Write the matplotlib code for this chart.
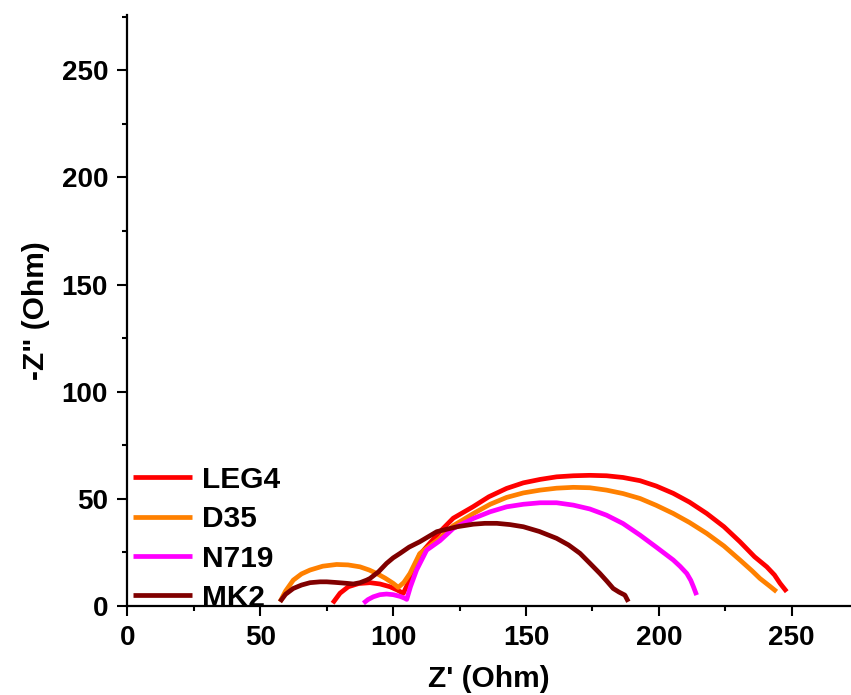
import numpy as np
import matplotlib
matplotlib.use('Agg')
import matplotlib.pyplot as plt
from matplotlib.ticker import MultipleLocator

plt.rcParams['font.family'] = ['Liberation Sans', 'DejaVu Sans']
plt.rcParams['font.weight'] = 'bold'

# Nyquist data: Z' (Ohm) and -Z'' (Ohm)
leg4_x = [77.2, 80.0, 83.1, 87.0, 91.3, 95.0, 98.8, 101.5, 103.8, 106.3, 110.0, 117.6, 122.6,
          130.0, 136.0, 142.7, 149.0, 155.3, 161.5, 167.8, 174.0, 180.3, 186.5, 192.9, 199.0,
          205.4, 211.5, 218.0, 224.5, 230.5, 236.0, 240.6, 243.5, 245.6, 248.1]
leg4_y = [1.3, 6.0, 9.0, 10.5, 10.9, 10.3, 9.0, 7.5, 5.9, 12.5, 24.0, 34.7, 41.0,
          46.3, 51.0, 54.9, 57.5, 59.1, 60.3, 60.8, 61.0, 60.8, 60.0, 58.5, 56.0,
          52.6, 48.5, 43.2, 37.0, 30.0, 23.0, 18.3, 14.5, 10.6, 6.7]

d35_x = [57.4, 59.5, 62.4, 65.5, 68.7, 73.5, 78.7, 83.0, 87.5, 91.0, 93.8, 97.0, 100.0, 101.9,
         104.0, 106.3, 110.0, 117.6, 122.6, 130.2, 136.5, 142.7, 149.0, 155.3, 161.5, 167.8,
         174.0, 180.3, 186.5, 192.9, 199.0, 205.4, 211.5, 218.0, 224.5, 230.5, 235.0, 238.0,
         241.5, 244.3]
d35_y = [2.0, 7.0, 12.1, 15.0, 16.8, 18.6, 19.4, 19.2, 18.3, 16.8, 15.2, 13.0, 10.6, 8.7,
         11.0, 15.2, 24.5, 31.6, 37.5, 43.2, 47.5, 50.7, 52.8, 54.1, 55.0, 55.4,
         55.2, 54.1, 52.5, 50.2, 47.0, 43.2, 39.0, 33.9, 28.0, 21.5, 16.5, 12.9,
         9.5, 6.7]

n719_x = [88.8, 90.5, 92.5, 95.0, 97.5, 100.0, 102.6, 104.4, 105.1, 106.5, 108.8, 112.6,
          117.6, 122.6, 130.2, 136.5, 142.7, 149.0, 155.3, 161.5, 167.8, 174.0, 180.3, 186.5,
          192.9, 199.0, 205.4, 208.0, 210.5, 212.0, 213.0, 214.2]
n719_y = [1.3, 3.0, 4.3, 5.3, 5.6, 5.3, 4.5, 3.6, 3.1, 9.0, 16.8, 26.1,
          30.5, 36.2, 40.9, 44.0, 46.3, 47.5, 48.2, 48.2, 47.1, 45.3, 42.4, 38.5,
          33.1, 27.5, 21.5, 18.5, 15.2, 12.0, 9.0, 5.1]

mk2_x = [57.4, 59.5, 62.4, 65.5, 68.7, 72.5, 75.0, 78.5, 82.5, 85.0, 87.5, 90.0, 91.3, 94.5,
         97.5, 100.0, 102.6, 106.0, 110.0, 116.4, 124.0, 130.2, 134.5, 139.0, 144.0, 149.0,
         155.0, 161.5, 166.0, 170.3, 174.0, 177.8, 180.5, 182.8, 185.0, 187.2, 188.5]
mk2_y = [2.0, 5.5, 8.2, 9.8, 10.9, 11.3, 11.3, 11.0, 10.6, 10.3, 10.9, 12.1, 12.9, 16.0,
         19.9, 22.5, 24.6, 27.5, 30.0, 34.7, 37.0, 38.2, 38.6, 38.6, 38.0, 37.0,
         34.8, 31.6, 28.5, 24.6, 20.0, 15.2, 11.5, 8.2, 6.5, 5.1, 2.0]

names = ['LEG4', 'D35', 'N719', 'MK2']
colors = ['#ff0000', '#ff8000', '#ff00ff', '#800000']
series = [(leg4_x, leg4_y), (d35_x, d35_y), (n719_x, n719_y), (mk2_x, mk2_y)]

fig = plt.figure(figsize=(8.51, 6.95), dpi=100)
ax = fig.add_axes([0.1498, 0.128, 0.8502, 0.850])

for (xs, ys), name, c in zip(series, names, colors):
    ax.plot(xs, ys, color=c, lw=3.4, label=name, solid_capstyle='butt',
            solid_joinstyle='round')

ax.set_xlim(0, 272.3)
ax.set_ylim(0, 275.7)
ax.xaxis.set_major_locator(MultipleLocator(50))
ax.xaxis.set_minor_locator(MultipleLocator(25))
ax.yaxis.set_major_locator(MultipleLocator(50))
ax.yaxis.set_minor_locator(MultipleLocator(25))

for s in ['top', 'right']:
    ax.spines[s].set_visible(False)
for s in ['left', 'bottom']:
    ax.spines[s].set_linewidth(1.6)

ax.tick_params(which='major', direction='out', length=7, width=1.5,
               labelsize=20, pad=7)
ax.tick_params(which='minor', direction='out', length=3.5, width=1.5)

ax.set_xlabel("Z' (Ohm)", fontsize=21.5, fontweight='bold', labelpad=10)
ax.set_ylabel('-Z" (Ohm)', fontsize=21.5, fontweight='bold', labelpad=8)

ax.legend(loc='lower left', bbox_to_anchor=(0.0, -0.02), frameon=False,
          fontsize=21.5, handlelength=1.95, handletextpad=0.35,
          labelspacing=0.38, borderpad=0.2, borderaxespad=0)

fig.savefig('out.png', dpi=100)
